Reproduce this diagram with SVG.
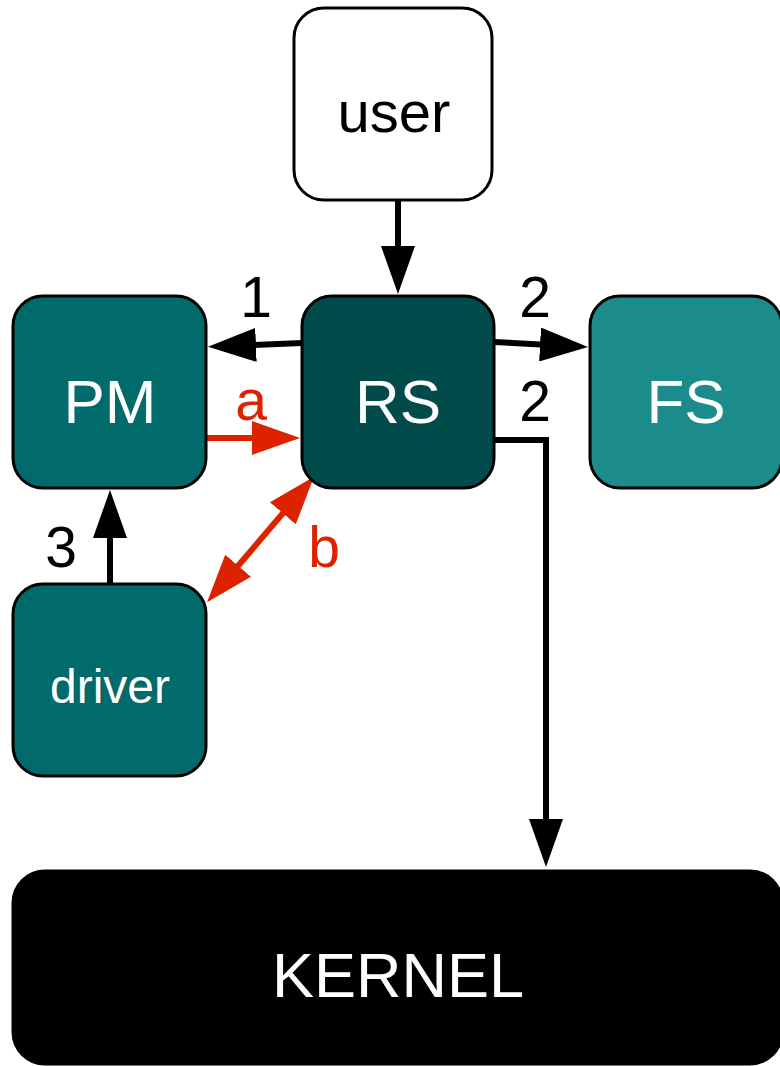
<svg xmlns="http://www.w3.org/2000/svg" width="780" height="1066" viewBox="0 0 780 1066">
<style>
.node{stroke:#000;stroke-width:3}
.lbl{font-family:"Liberation Sans",Arial,sans-serif;text-anchor:middle}
.w{fill:#fff}
.k{fill:#000}
.r{fill:#dd2200}
.c{fill:none;stroke:#000;stroke-width:6}
.cr{fill:none;stroke:#dd2200;stroke-width:6}
</style>
<defs>
<marker id="ah" viewBox="0 0 48 34" refX="28" refY="17" markerWidth="48" markerHeight="34" markerUnits="userSpaceOnUse" orient="auto-start-reverse">
<path d="M0,0 L48,17 L0,34 z" fill="#000"/>
</marker>
<marker id="ahr" viewBox="0 0 48 34" refX="28" refY="17" markerWidth="48" markerHeight="34" markerUnits="userSpaceOnUse" orient="auto-start-reverse">
<path d="M0,0 L48,17 L0,34 z" fill="#dd2200"/>
</marker>
</defs>
<g id="connectors">
<path class="c" d="M398,200 L398,274" marker-end="url(#ah)"/>
<path class="c" d="M302,343 L228,346" marker-end="url(#ah)"/>
<path class="c" d="M494,342 L568,346" marker-end="url(#ah)"/>
<path class="c" d="M494,440 L546,440 L546,847" marker-end="url(#ah)"/>
<path class="c" d="M110,584 L110,510" marker-end="url(#ah)"/>
<path class="cr" d="M206,438 L280,438" marker-end="url(#ahr)"/>
<path class="cr" d="M220,587 L301,492" marker-start="url(#ahr)" marker-end="url(#ahr)"/>
<text class="lbl k" x="256" y="317" font-size="57">1</text>
<text class="lbl k" x="535" y="317" font-size="57">2</text>
<text class="lbl k" x="535" y="421" font-size="57">2</text>
<text class="lbl r" x="251" y="420" font-size="57">a</text>
<text class="lbl r" x="324" y="567" font-size="57">b</text>
<text class="lbl k" x="61" y="567" font-size="57">3</text>
</g>
<g id="user">
<rect class="node" x="294" y="8" width="198" height="192" rx="30" fill="#fff"/>
<text class="lbl k" x="394" y="132" font-size="58">user</text>
</g>
<g id="PM">
<rect class="node" x="13" y="296" width="193" height="192" rx="30" fill="#016b6b"/>
<text class="lbl w" x="110" y="423" font-size="62">PM</text>
</g>
<g id="RS">
<rect class="node" x="302" y="296" width="192" height="192" rx="30" fill="#024b4b"/>
<text class="lbl w" x="398" y="423" font-size="62">RS</text>
</g>
<g id="FS">
<rect class="node" x="590" y="296" width="192" height="192" rx="30" fill="#1b8b8b"/>
<text class="lbl w" x="686" y="423" font-size="62">FS</text>
</g>
<g id="driver">
<rect class="node" x="13" y="584" width="193" height="192" rx="30" fill="#016b6b"/>
<text class="lbl w" x="110" y="703" font-size="48">driver</text>
</g>
<g id="KERNEL">
<rect class="node" x="13" y="871" width="769" height="193" rx="32" fill="#000"/>
<text class="lbl w" x="398" y="997" font-size="63">KERNEL</text>
</g>
</svg>
